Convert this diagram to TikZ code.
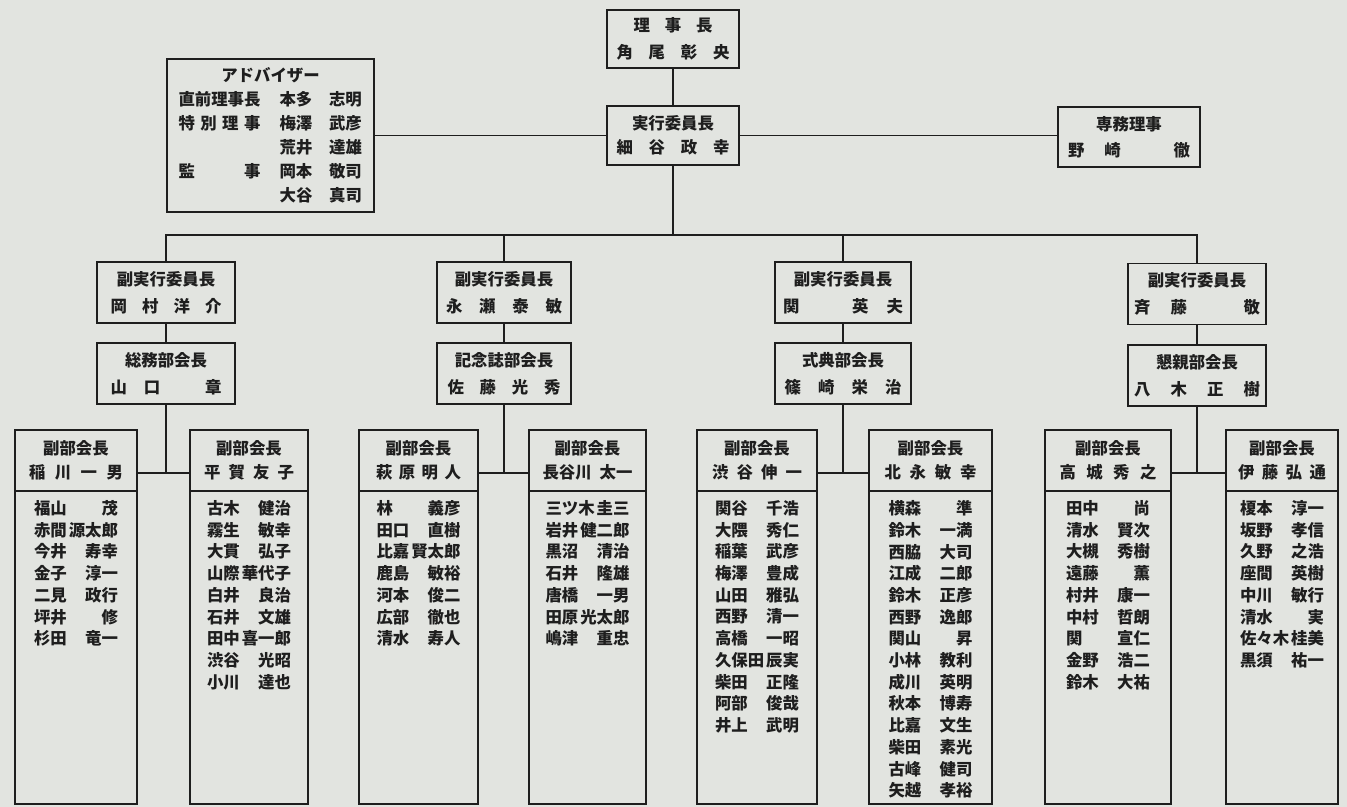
\documentclass[tikz,border=0pt]{standalone}
\usepackage{fontspec}
\setmainfont{Noto Sans CJK JP}
\usepackage{tikz}
\usetikzlibrary{positioning}
\definecolor{Ink}{HTML}{1E1E1E}
\definecolor{Paper}{HTML}{E2E4E0}
\newlength{\pxu}\setlength{\pxu}{0.5pt}
\newcommand{\spr}[2]{\makebox[#1\pxu]{#2}}
\newcommand{\mem}[2]{\makebox[84\pxu]{#1\hfill #2}}
\newcommand{\advrow}[3]{\makebox[82\pxu]{#1}\hspace{18\pxu}\makebox[35\pxu]{#2}\hspace{15\pxu}\makebox[34\pxu]{#3}}

\begin{document}
\begin{tikzpicture}[x=0.5pt,y=-0.5pt,
    every node/.style={font=\fontsize{8.2}{13.5}\selectfont\bfseries, text=Ink},
    wd/.style={minimum width=#1*0.5pt},
    ht/.style={minimum height=#1*0.5pt},
    box/.style={draw=Ink, line width=0.9pt, inner sep=0pt, align=center},
    subhead/.style={box, ht=61, font=\fontsize{8.2}{12}\selectfont\bfseries},
    memlist/.style={inner sep=0pt, align=left, font=\fontsize{8.2}{10.85}\selectfont\bfseries},
    ln/.style={Ink, line width=0.9pt}]
  \fill[Paper] (0,0) rectangle (1347,807);
  \useasboundingbox (0,0) rectangle (1347,807);

  \node[box, wd=132, ht=58] (rij) at (673,39)
    {\spr{79}{理\hfill 事\hfill 長}\\ \spr{113}{角\hfill 尾\hfill 彰\hfill 央}};
  \node[box, wd=132, ht=59, font=\fontsize{8.2}{12}\selectfont\bfseries] (jik) at (673,135.5)
    {実行委員長\\ \spr{113}{細\hfill 谷\hfill 政\hfill 幸}};
  \node[box, wd=207, ht=153, font=\fontsize{8.2}{12}\selectfont\bfseries] (adv) at (270.5,135.5)
    {アドバイザー\\
     \advrow{直前理事長}{本多}{志明}\\
     \advrow{特\hfill 別\hfill 理\hfill 事}{梅澤}{武彦}\\
     \advrow{}{荒井}{達雄}\\
     \advrow{監\hfill 事}{岡本}{敬司}\\
     \advrow{}{大谷}{真司}};
  \node[box, wd=142, ht=60, font=\fontsize{8.2}{13}\selectfont\bfseries] (sen) at (1129,137)
    {専務理事\\ \spr{122}{野\hspace{20\pxu}崎\hfill 徹}};

  \node[box, wd=138, ht=61] (v1) at (166,292.5)
    {副実行委員長\\ \spr{111}{岡\hfill 村\hfill 洋\hfill 介}};
  \node[box, wd=134, ht=61] (v2) at (504,292.5)
    {副実行委員長\\ \spr{116}{永\hfill 瀬\hfill 泰\hfill 敏}};
  \node[box, wd=136, ht=61] (v3) at (843,292.5)
    {副実行委員長\\ \spr{120}{関\hfill\phantom{英}\hfill 英\hfill 夫}};
  \node[box, wd=138, ht=61] (v4) at (1197,294)
    {副実行委員長\\ \spr{126}{斉\hfill 藤\hfill\phantom{敬}\hfill 敬}};

  \node[box, wd=138, ht=61] (d1) at (166,373.5)
    {総務部会長\\ \spr{111}{山\hspace{17\pxu}口\hfill 章}};
  \node[box, wd=134, ht=61] (d2) at (504,373.5)
    {記念誌部会長\\ \spr{113}{佐\hfill 藤\hfill 光\hfill 秀}};
  \node[box, wd=136, ht=61] (d3) at (843,373.5)
    {式典部会長\\ \spr{117}{篠\hfill 崎\hfill 栄\hfill 治}};
  \node[box, wd=138, ht=61] (d4) at (1197,375.5)
    {懇親部会長\\ \spr{126}{八\hfill 木\hfill 正\hfill 樹}};

  \node[subhead, wd=122] (ha1) at (76,460.5) {副部会長\\ \spr{94}{稲\hfill 川\hfill 一\hfill 男}};
  \node[subhead, wd=118] (hb1) at (249,460.5) {副部会長\\ \spr{90}{平\hfill 賀\hfill 友\hfill 子}};
  \node[subhead, wd=119] (ha2) at (418.5,460.5) {副部会長\\ \spr{85}{萩\hfill 原\hfill 明\hfill 人}};
  \node[subhead, wd=117] (hb2) at (587.5,460.5) {副部会長\\ \spr{90}{長谷川\hfill 太一}};
  \node[subhead, wd=120] (ha3) at (757,460.5) {副部会長\\ \spr{90}{渋\hfill 谷\hfill 伸\hfill 一}};
  \node[subhead, wd=123] (hb3) at (930.5,460.5) {副部会長\\ \spr{92}{北\hfill 永\hfill 敏\hfill 幸}};
  \node[subhead, wd=126] (ha4) at (1108,460.5) {副部会長\\ \spr{97}{高\hfill 城\hfill 秀\hfill 之}};
  \node[subhead, wd=112] (hb4) at (1282,460.5) {副部会長\\ \spr{88}{伊\hfill 藤\hfill 弘\hfill 通}};

  \node[box, wd=122, ht=313] (ba1) at (76,647.5) {};
  \node[box, wd=118, ht=313] (bb1) at (249,647.5) {};
  \node[box, wd=119, ht=313] (ba2) at (418.5,647.5) {};
  \node[box, wd=117, ht=313] (bb2) at (587.5,647.5) {};
  \node[box, wd=120, ht=313] (ba3) at (757,647.5) {};
  \node[box, wd=123, ht=313] (bb3) at (930.5,647.5) {};
  \node[box, wd=126, ht=313] (ba4) at (1108,647.5) {};
  \node[box, wd=112, ht=313] (bb4) at (1282,647.5) {};

  \node[memlist, below=5pt of ba1.north] (ma1)
    {\mem{福山}{茂}\\ \mem{赤間}{源太郎}\\ \mem{今井}{寿幸}\\ \mem{金子}{淳一}\\
     \mem{二見}{政行}\\ \mem{坪井}{修}\\ \mem{杉田}{竜一}};
  \node[memlist, below=5pt of bb1.north] (mb1)
    {\mem{古木}{健治}\\ \mem{霧生}{敏幸}\\ \mem{大貫}{弘子}\\ \mem{山際}{華代子}\\
     \mem{白井}{良治}\\ \mem{石井}{文雄}\\ \mem{田中}{喜一郎}\\ \mem{渋谷}{光昭}\\ \mem{小川}{達也}};
  \node[memlist, below=5pt of ba2.north] (ma2)
    {\mem{林}{義彦}\\ \mem{田口}{直樹}\\ \mem{比嘉}{賢太郎}\\ \mem{鹿島}{敏裕}\\
     \mem{河本}{俊二}\\ \mem{広部}{徹也}\\ \mem{清水}{寿人}};
  \node[memlist, below=5pt of bb2.north] (mb2)
    {\mem{三ツ木}{圭三}\\ \mem{岩井}{健二郎}\\ \mem{黒沼}{清治}\\ \mem{石井}{隆雄}\\
     \mem{唐橋}{一男}\\ \mem{田原}{光太郎}\\ \mem{嶋津}{重忠}};
  \node[memlist, below=5pt of ba3.north] (ma3)
    {\mem{関谷}{千浩}\\ \mem{大隈}{秀仁}\\ \mem{稲葉}{武彦}\\ \mem{梅澤}{豊成}\\
     \mem{山田}{雅弘}\\ \mem{西野}{清一}\\ \mem{高橋}{一昭}\\ \mem{久保田}{辰実}\\
     \mem{柴田}{正隆}\\ \mem{阿部}{俊哉}\\ \mem{井上}{武明}};
  \node[memlist, below=5pt of bb3.north] (mb3)
    {\mem{横森}{準}\\ \mem{鈴木}{一満}\\ \mem{西脇}{大司}\\ \mem{江成}{二郎}\\
     \mem{鈴木}{正彦}\\ \mem{西野}{逸郎}\\ \mem{関山}{昇}\\ \mem{小林}{教利}\\
     \mem{成川}{英明}\\ \mem{秋本}{博寿}\\ \mem{比嘉}{文生}\\ \mem{柴田}{素光}\\
     \mem{古峰}{健司}\\ \mem{矢越}{孝裕}};
  \node[memlist, below=5pt of ba4.north] (ma4)
    {\mem{田中}{尚}\\ \mem{清水}{賢次}\\ \mem{大槻}{秀樹}\\ \mem{遠藤}{薫}\\
     \mem{村井}{康一}\\ \mem{中村}{哲朗}\\ \mem{関}{宣仁}\\ \mem{金野}{浩二}\\ \mem{鈴木}{大祐}};
  \node[memlist, below=5pt of bb4.north] (mb4)
    {\mem{榎本}{淳一}\\ \mem{坂野}{孝信}\\ \mem{久野}{之浩}\\ \mem{座間}{英樹}\\
     \mem{中川}{敏行}\\ \mem{清水}{実}\\ \mem{佐々木}{桂美}\\ \mem{黒須}{祐一}};

  \coordinate (bus) at (673,235);
  \coordinate (row) at (0,473);
  \draw[ln] (rij) -- (jik);
  \draw[ln] (adv) -- (jik);
  \draw[ln] (jik.east) -- (jik.east -| sen.west);
  \draw[ln] (jik) -- (bus);
  \draw[ln] (v1.north) |- (bus) -| (v4.north);
  \draw[ln] (v2.north) -- (v2.north |- bus);
  \draw[ln] (v3.north) -- (v3.north |- bus);
  \draw[ln] (v1) -- (d1); \draw[ln] (v2) -- (d2);
  \draw[ln] (v3) -- (d3); \draw[ln] (v4) -- (d4);
  \draw[ln] (d1) -- (d1.south |- row); \draw[ln] (ha1.east |- row) -- (hb1.west |- row);
  \draw[ln] (d2) -- (d2.south |- row); \draw[ln] (ha2.east |- row) -- (hb2.west |- row);
  \draw[ln] (d3) -- (d3.south |- row); \draw[ln] (ha3.east |- row) -- (hb3.west |- row);
  \draw[ln] (d4) -- (d4.south |- row); \draw[ln] (ha4.east |- row) -- (hb4.west |- row);
\end{tikzpicture}
\end{document}
